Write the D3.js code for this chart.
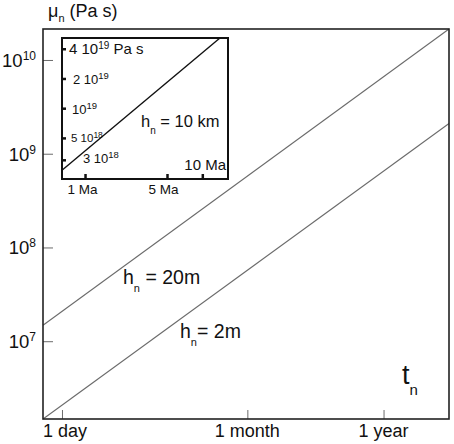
<!DOCTYPE html>
<html>
<head>
<meta charset="utf-8">
<script src="https://cdn.jsdelivr.net/npm/d3@7"></script>
<style>
  body { margin: 0; background: #fff; }
  svg { display: block; font-family: 'Liberation Sans', Arial, sans-serif; }
</style>
</head>
<body>
<svg width="454" height="444"></svg>
<script>
// main chart, log-log: time (days) vs viscosity (Pa s)
const tDomain = [0.706, 1213];
const muDomain = [1.48e6, 2.14e10];
const xTickValues = [1, 30, 365];
const xTickLabels = ['1 day', '1 month', '1 year'];
const yTickExps = [7, 8, 9, 10];

// the two straight lines, end points read at the frame edges
const lineTimes = [0.706, 1213];
const hn20 = [1.48e7, 2.14e10];
const hn2 = [1.48e6, 2.1e9];

// inset: times in Ma
const insetTDomain = [0.63, 16.4];
const insetMuDomain = [1.94e18, 5.2e19];
const insetXTicks = [1, 5, 10];
const insetXLabels = ['1 Ma', '5 Ma', '10 Ma'];
const insetYTicks = [3e18, 5e18, 1e19, 2e19, 4e19];
const insetLineTimes = [0.63, 14];
const hn10km = [2.38e18, 5.2e19];

const svg = d3.select('svg');
const ink = '#111';
const lineGray = '#6b6b6b';

const x = d3.scaleLog().domain(tDomain).range([43, 449]);
const y = d3.scaleLog().domain(muDomain).range([419, 29]);

// text with a raised or lowered part: parts = [[text, shift, size], ...]
function richText(g, px, py, size, parts, anchor) {
  const t = g.append('text')
    .attr('x', px).attr('y', py)
    .attr('font-size', size)
    .attr('fill', ink)
    .attr('text-anchor', anchor || 'start');
  let prev = 0;
  parts.forEach(([s, shift, sz]) => {
    t.append('tspan')
      .attr('dy', `${shift - prev}px`)
      .attr('font-size', sz || size)
      .text(s);
    prev = shift;
  });
  return t;
}

// lines
const line = d3.line().x((d) => x(d[0])).y((d) => y(d[1]));
[hn20, hn2].forEach((vals) => {
  svg.append('path')
    .datum(lineTimes.map((t, i) => [t, vals[i]]))
    .attr('d', line)
    .attr('fill', 'none')
    .attr('stroke', lineGray)
    .attr('stroke-width', 1.1);
});

// axes, ticks pointing inwards
svg.append('g')
  .attr('transform', 'translate(0,419)')
  .call(d3.axisBottom(x).tickValues(xTickValues).tickSize(-9).tickFormat(''))
  .call((g) => g.select('.domain').remove())
  .selectAll('line').attr('stroke', lineGray);

svg.append('g')
  .attr('transform', 'translate(43,0)')
  .call(d3.axisLeft(y).tickValues(yTickExps.map((e) => 10 ** e)).tickSize(-10).tickFormat(''))
  .call((g) => g.select('.domain').remove())
  .selectAll('line').attr('stroke', lineGray);

svg.append('rect')
  .attr('x', 43).attr('y', 29).attr('width', 406).attr('height', 390)
  .attr('fill', 'none').attr('stroke', '#222').attr('stroke-width', 1.6);

xTickValues.forEach((v, i) => {
  svg.append('text')
    .attr('x', x(v) + (i === 0 ? 3 : 0)).attr('y', 437)
    .attr('text-anchor', 'middle')
    .attr('font-size', 18).attr('fill', ink)
    .text(xTickLabels[i]);
});

yTickExps.forEach((e) => {
  richText(svg, 36, y(10 ** e) + 7, 18.5, [['10', 0], [String(e), -7, 12]], 'end');
});

// axis titles
richText(svg, 48, 17, 18, [['\u03bc', 0], ['n', 5, 11], [' (Pa s)', 0]]);
richText(svg, 402, 384, 27, [['t', 0], ['n', 11, 15]]);

// line labels
richText(svg, 123, 284, 19.5, [['h', 0], ['n', 8, 11], [' = 20m', 0]]);
richText(svg, 180, 338, 19.5, [['h', 0], ['n', 8, 11], ['= 2m', 0]]);

// inset
const ix = d3.scaleLog().domain(insetTDomain).range([62, 228]);
const iy = d3.scaleLog().domain(insetMuDomain).range([179, 38]);
const inset = svg.append('g');

inset.append('rect')
  .attr('x', 62).attr('y', 38).attr('width', 166).attr('height', 141)
  .attr('fill', '#fff').attr('stroke', '#111').attr('stroke-width', 2);

inset.append('path')
  .datum(insetLineTimes.map((t, i) => [t, hn10km[i]]))
  .attr('d', d3.line().x((d) => ix(d[0])).y((d) => iy(d[1])))
  .attr('fill', 'none').attr('stroke', '#111').attr('stroke-width', 1.4);

inset.selectAll('.ytick')
  .data(insetYTicks).enter()
  .append('line').attr('class', 'ytick')
  .attr('x1', 62).attr('x2', 66)
  .attr('y1', (d) => iy(d)).attr('y2', (d) => iy(d))
  .attr('stroke', '#111').attr('stroke-width', 2.5);

inset.selectAll('.xtick')
  .data(insetXTicks).enter()
  .append('line').attr('class', 'xtick')
  .attr('x1', (d) => ix(d)).attr('x2', (d) => ix(d))
  .attr('y1', 179).attr('y2', 174)
  .attr('stroke', '#111').attr('stroke-width', 2.5);

richText(inset, 69, iy(4e19) + 5, 15, [['4 10', 0], ['19', -5, 10]]).append('tspan').attr('dy', '5px').text(' Pa s');
richText(inset, 73, iy(2e19) + 5, 13, [['2 10', 0], ['19', -5, 9.5]]);
richText(inset, 72, iy(1e19) + 5, 13, [['10', 0], ['19', -5, 9.5]]);
richText(inset, 71, iy(5e18) + 4, 11.5, [['5 10', 0], ['18', -4, 8.5]]);
richText(inset, 83, iy(3e18) + 3, 13, [['3 10', 0], ['18', -5, 9.5]]);

inset.append('text')
  .attr('x', 226).attr('y', 170).attr('text-anchor', 'end')
  .attr('font-size', 15).attr('fill', ink).text(insetXLabels[2]);
insetXTicks.slice(0, 2).forEach((v, i) => {
  inset.append('text')
    .attr('x', ix(v) - (i ? 4 : 3)).attr('y', 194).attr('text-anchor', 'middle')
    .attr('font-size', 13.5).attr('fill', ink).text(insetXLabels[i]);
});

richText(inset, 141, 127, 16.5, [['h', 0], ['n', 7, 10], [' = 10 km', -0]]);
</script>
</body>
</html>
